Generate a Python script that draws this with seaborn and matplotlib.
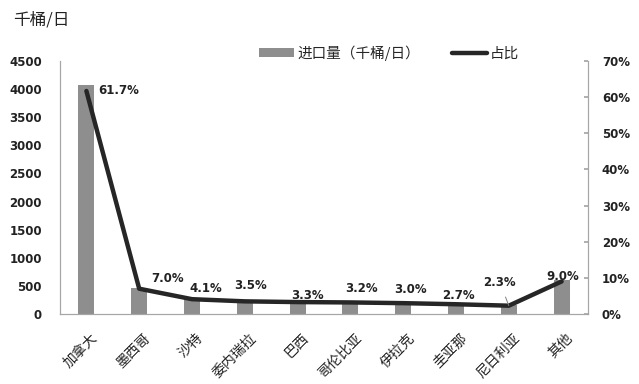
import numpy as np
import pandas as pd
import matplotlib
matplotlib.use("Agg")
import matplotlib.pyplot as plt
import matplotlib.transforms as mtransforms
import seaborn as sns
from matplotlib.ticker import FuncFormatter, MultipleLocator

countries = ["加拿大", "墨西哥", "沙特", "委内瑞拉", "巴西", "哥伦比亚", "伊拉克", "圭亚那", "尼日利亚", "其他"]
imports = [4070, 462, 271, 231, 218, 211, 198, 178, 152, 600]
share = [61.7, 7.0, 4.1, 3.5, 3.3, 3.2, 3.0, 2.7, 2.3, 9.0]

# label offsets (points) of the percentage annotations' centres
label_offsets = [(23.5, 0), (20.5, 7.7), (10, 8), (4.3, 11.7), (7, 4.5), (8, 10),
                 (5.5, 9.5), (1.5, 6.5), (-6.5, 17), (1, 3.3)]

sns.set_theme(style="white")
plt.rcParams["font.family"] = ["DejaVu Sans", "Noto Sans CJK SC"]

df = pd.DataFrame({"country": countries, "imports": imports, "share": share})

fig = plt.figure(figsize=(6.39, 3.84), dpi=100)
ax = fig.add_axes([60/639, 70/384, 528/639, 253/384])

sns.barplot(data=df, x="country", y="imports", color="#8e8e8e", width=0.3,
            saturation=1, ax=ax, label="进口量（千桶/日）", linewidth=0)
ax.set_ylim(0, 4500)
ax.set_xlim(-0.5, len(countries) - 0.5)
ax.yaxis.set_major_locator(MultipleLocator(500))
ax.set_xlabel("")
ax.set_ylabel("")

ax2 = ax.twinx()
sns.lineplot(x=np.arange(len(countries)), y=df["share"], color="#262626", linewidth=3.2,
             ax=ax2, label="占比", solid_capstyle="round")
ax2.set_ylim(0, 70)
ax2.set_xlim(-0.5, len(countries) - 0.5)
ax2.yaxis.set_major_locator(MultipleLocator(10))
ax2.yaxis.set_major_formatter(FuncFormatter(lambda v, p: f"{int(round(v))}%"))
ax2.set_ylabel("")

for i, (v, off) in enumerate(zip(share, label_offsets)):
    kw = {}
    if i == 8:
        kw["arrowprops"] = dict(arrowstyle="-", color="#7f7f7f", lw=0.7, shrinkA=4, shrinkB=0)
    ax2.annotate(f"{v:.1f}%", xy=(i, v), xytext=off,
                 textcoords="offset points", ha="center", va="center",
                 fontsize=8.5, fontweight="bold", color="#222222", **kw)

for a in (ax, ax2):
    a.spines["top"].set_visible(False)
    for s in ["left", "right", "bottom"]:
        a.spines[s].set_color("#a6a6a6")
        a.spines[s].set_linewidth(0.8)

ax.tick_params(axis="y", length=0, labelsize=8.5, colors="#222222", pad=13)
for t in ax.get_yticklabels():
    t.set_fontweight("bold")
ax.tick_params(axis="x", length=0, pad=12)
ax.set_xticks(range(len(countries)))
ax.set_xticklabels(countries, rotation=45, ha="right", rotation_mode="anchor",
                   fontsize=10, family=["Noto Sans CJK SC"], color="#222222")
shift = mtransforms.ScaledTranslation(0.04, 0, fig.dpi_scale_trans)
for t in ax.get_xticklabels():
    t.set_transform(t.get_transform() + shift)
ax2.tick_params(axis="y", direction="in", length=3, color="#a6a6a6", labelsize=8.5,
                colors="#222222", pad=10)
for t in ax2.get_yticklabels():
    t.set_fontweight("bold")

h1, l1 = ax.get_legend_handles_labels()
h2, l2 = ax2.get_legend_handles_labels()
if ax.get_legend():
    ax.get_legend().remove()
if ax2.get_legend():
    ax2.get_legend().remove()
fig.legend(h1 + h2, l1 + l2, loc="center", bbox_to_anchor=(389/639, 1 - 53/384), ncol=2,
           frameon=False, prop={"family": ["Noto Sans CJK SC"], "size": 10.5},
           handlelength=2.4, handleheight=0.5, columnspacing=2.2, handletextpad=0.2)

fig.text(13/639, 1 - 20/384, "千桶/日", fontsize=12, family=["Noto Sans CJK SC"],
         va="center", ha="left", color="#222222")

fig.savefig("out.png", dpi=100, facecolor="white")
